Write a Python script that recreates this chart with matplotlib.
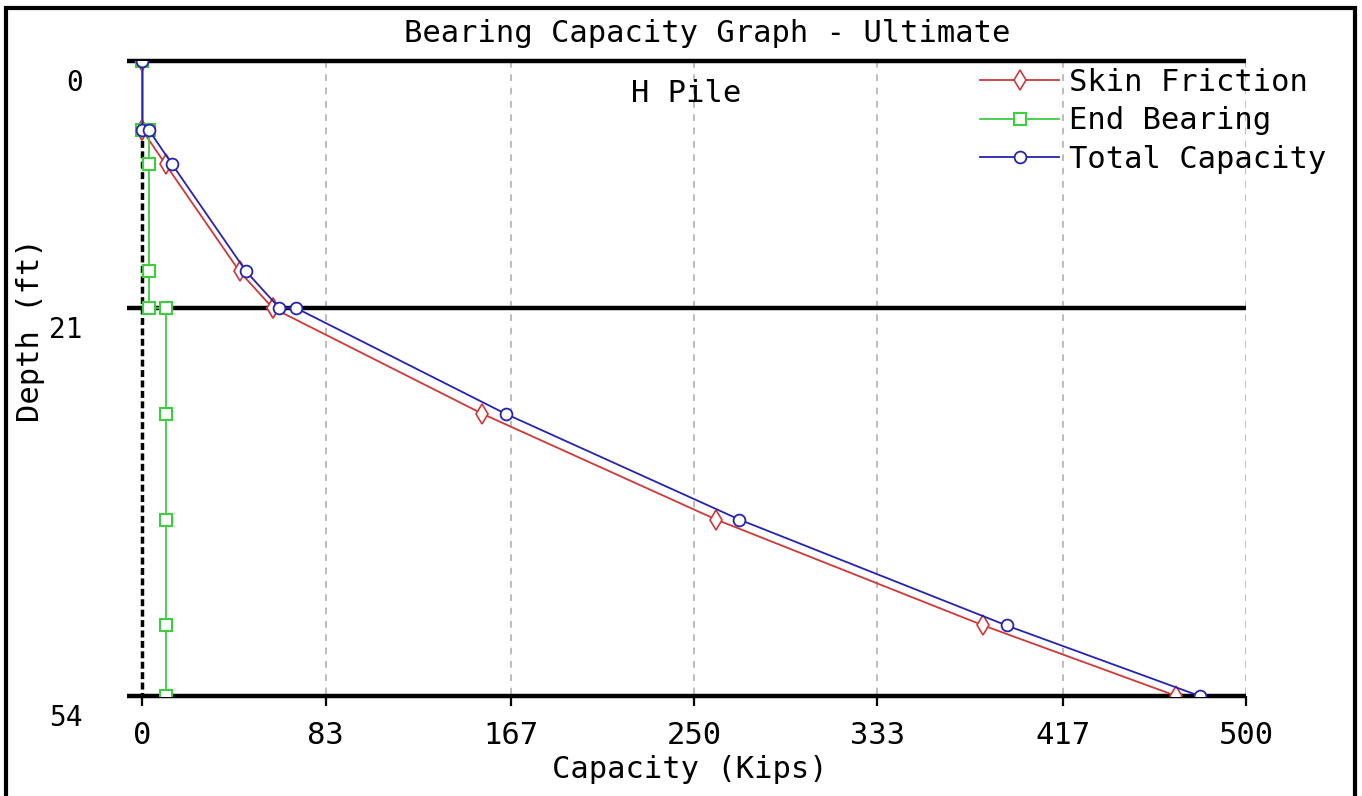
import matplotlib.pyplot as plt
from matplotlib.patches import Rectangle
from matplotlib.transforms import ScaledTranslation

# depth (ft) of every computed point, with repeated depths at layer changes
depth = [0, 5.9, 5.9, 8.8, 17.9, 21, 21, 30, 39, 48, 54]
skin_friction = [0, 0, 0, 10.5, 44, 59, 59, 154, 260, 381, 468.5]
end_bearing = [0, 0, 3, 3, 3, 3, 10.5, 10.5, 10.5, 10.5, 10.5]
total_capacity = [s + e for s, e in zip(skin_friction, end_bearing)]

layer_lines = [0, 21, 54]
x_ticks = [0, 83, 167, 250, 333, 417, 500]
y_ticks = [0, 21, 54]

W, H = 1362, 796
FONT = 'DejaVu Sans Mono'
FS = 22
plt.rcParams['font.family'] = FONT

fig = plt.figure(figsize=(W / 100, H / 100), dpi=100)
ax = fig.add_axes([127 / W, 1 - 696 / H, (1246 - 127) / W, (696 - 61) / H])

ax.set_xlim(-7, 500)
ax.set_ylim(54, 0)
for sp in ax.spines.values():
    sp.set_visible(False)

# grid and layer lines
ax.vlines(x_ticks[1:], 0, 54, colors='#b0b0b0', linestyles=(0, (4, 4)), lw=1.2, zorder=1)
ax.hlines(layer_lines, -7, 500, colors='black', lw=3.2, zorder=2, clip_on=False)
ax.plot([0, 0], [depth[1], depth[-1]], color='black', lw=2.5, ls=(0, (2, 1)), zorder=2)

ax.plot(skin_friction, depth, color='#d03838', lw=1.3, marker='d', ms=10,
        mfc='white', mec='#d03838', mew=1.2, label='Skin Friction', zorder=3)
ax.plot(end_bearing, depth, color='#3ccf3c', lw=1.3, marker='s', ms=9,
        mfc='white', mec='#3ccf3c', mew=1.5, label='End Bearing', zorder=3)
ax.plot(total_capacity, depth, color='#2424b0', lw=1.3, marker='o', ms=8.5,
        mfc='white', mec='#2424b0', mew=1.3, label='Total Capacity', zorder=4)

ax.set_xticks(x_ticks)
ax.set_xticklabels([str(t) for t in x_ticks], fontsize=FS)
ax.tick_params(axis='x', direction='out', length=7, width=1.6, pad=11)
ax.set_yticks(y_ticks)
ax.set_yticklabels([str(t) for t in y_ticks], fontsize=20)
ax.tick_params(axis='y', length=0, pad=32)
shift = ScaledTranslation(0, -19 / 100, fig.dpi_scale_trans)
for lab in ax.get_yticklabels():
    lab.set_transform(lab.get_transform() + shift)

ax.text(0.5, 1 - (93 - 61) / (696 - 61), 'H Pile', transform=ax.transAxes,
        fontsize=FS, ha='center', va='center')

fig.text(707 / W, 1 - 34 / H, 'Bearing Capacity Graph - Ultimate', fontsize=FS,
         ha='center', va='center')
fig.text(690 / W, 1 - 770 / H, 'Capacity (Kips)', fontsize=FS, ha='center', va='center')
fig.text(31 / W, 1 - 330 / H, 'Depth (ft)', fontsize=FS, ha='center', va='center',
         rotation=90)

fig.legend(loc='upper left', bbox_to_anchor=(980 / W, 1 - 68 / H), frameon=False,
           fontsize=FS, handlelength=2.6, handletextpad=0.3, labelspacing=0.31,
           borderpad=0, borderaxespad=0)

fig.patches.append(Rectangle((6 / W, -0.02), (1355 - 6) / W, 1.02 - 8 / H,
                             transform=fig.transFigure, fill=False, ec='black', lw=3))

fig.savefig('out.png', dpi=100)
